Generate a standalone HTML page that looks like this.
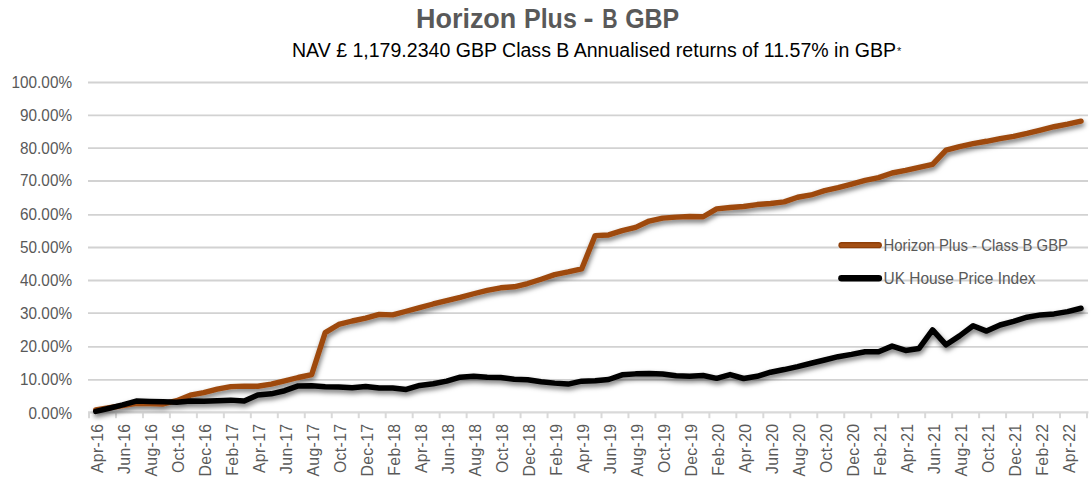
<!DOCTYPE html>
<html><head><meta charset="utf-8"><style>
html,body{margin:0;padding:0;background:#fff;width:1091px;height:480px;overflow:hidden}
svg{display:block}
text{font-family:"Liberation Sans", sans-serif}
.yl{font-size:17.4px;fill:#595959}
.xl{font-size:15.8px;letter-spacing:0.35px;fill:#595959}
.lg{font-size:15.6px;fill:#595959}
.tt{font-size:28.2px;font-weight:bold;fill:#595959}
.st{font-size:20px;fill:#000}
.ast{font-size:11px;fill:#222}
</style></head><body>
<svg width="1091" height="480" viewBox="0 0 1091 480">
<defs><filter id="sh" x="-5%" y="-10%" width="110%" height="130%">
<feDropShadow dx="1" dy="3" stdDeviation="2.8" flood-color="#000" flood-opacity="0.55"/>
</filter></defs>
<rect width="1091" height="480" fill="#fff"/>
<line x1="88" x2="1088" y1="379.90" y2="379.90" stroke="#d2d2d2" stroke-width="1.8"/><line x1="88" x2="1088" y1="346.90" y2="346.90" stroke="#d2d2d2" stroke-width="1.8"/><line x1="88" x2="1088" y1="313.10" y2="313.10" stroke="#d2d2d2" stroke-width="1.8"/><line x1="88" x2="1088" y1="280.50" y2="280.50" stroke="#d2d2d2" stroke-width="1.8"/><line x1="88" x2="1088" y1="247.50" y2="247.50" stroke="#d2d2d2" stroke-width="1.8"/><line x1="88" x2="1088" y1="214.80" y2="214.80" stroke="#d2d2d2" stroke-width="1.8"/><line x1="88" x2="1088" y1="181.00" y2="181.00" stroke="#d2d2d2" stroke-width="1.8"/><line x1="88" x2="1088" y1="148.10" y2="148.10" stroke="#d2d2d2" stroke-width="1.8"/><line x1="88" x2="1088" y1="115.40" y2="115.40" stroke="#d2d2d2" stroke-width="1.8"/><line x1="88" x2="1088" y1="82.50" y2="82.50" stroke="#d2d2d2" stroke-width="1.8"/><line x1="88" x2="1088.5" y1="412.3" y2="412.3" stroke="#d9d9d9" stroke-width="2.2"/><line x1="89.00" x2="89.00" y1="412" y2="418.2" stroke="#d9d9d9" stroke-width="2"/><line x1="115.97" x2="115.97" y1="412" y2="418.2" stroke="#d9d9d9" stroke-width="2"/><line x1="142.95" x2="142.95" y1="412" y2="418.2" stroke="#d9d9d9" stroke-width="2"/><line x1="169.92" x2="169.92" y1="412" y2="418.2" stroke="#d9d9d9" stroke-width="2"/><line x1="196.89" x2="196.89" y1="412" y2="418.2" stroke="#d9d9d9" stroke-width="2"/><line x1="223.86" x2="223.86" y1="412" y2="418.2" stroke="#d9d9d9" stroke-width="2"/><line x1="250.84" x2="250.84" y1="412" y2="418.2" stroke="#d9d9d9" stroke-width="2"/><line x1="277.81" x2="277.81" y1="412" y2="418.2" stroke="#d9d9d9" stroke-width="2"/><line x1="304.78" x2="304.78" y1="412" y2="418.2" stroke="#d9d9d9" stroke-width="2"/><line x1="331.76" x2="331.76" y1="412" y2="418.2" stroke="#d9d9d9" stroke-width="2"/><line x1="358.73" x2="358.73" y1="412" y2="418.2" stroke="#d9d9d9" stroke-width="2"/><line x1="385.70" x2="385.70" y1="412" y2="418.2" stroke="#d9d9d9" stroke-width="2"/><line x1="412.68" x2="412.68" y1="412" y2="418.2" stroke="#d9d9d9" stroke-width="2"/><line x1="439.65" x2="439.65" y1="412" y2="418.2" stroke="#d9d9d9" stroke-width="2"/><line x1="466.62" x2="466.62" y1="412" y2="418.2" stroke="#d9d9d9" stroke-width="2"/><line x1="493.59" x2="493.59" y1="412" y2="418.2" stroke="#d9d9d9" stroke-width="2"/><line x1="520.57" x2="520.57" y1="412" y2="418.2" stroke="#d9d9d9" stroke-width="2"/><line x1="547.54" x2="547.54" y1="412" y2="418.2" stroke="#d9d9d9" stroke-width="2"/><line x1="574.51" x2="574.51" y1="412" y2="418.2" stroke="#d9d9d9" stroke-width="2"/><line x1="601.49" x2="601.49" y1="412" y2="418.2" stroke="#d9d9d9" stroke-width="2"/><line x1="628.46" x2="628.46" y1="412" y2="418.2" stroke="#d9d9d9" stroke-width="2"/><line x1="655.43" x2="655.43" y1="412" y2="418.2" stroke="#d9d9d9" stroke-width="2"/><line x1="682.41" x2="682.41" y1="412" y2="418.2" stroke="#d9d9d9" stroke-width="2"/><line x1="709.38" x2="709.38" y1="412" y2="418.2" stroke="#d9d9d9" stroke-width="2"/><line x1="736.35" x2="736.35" y1="412" y2="418.2" stroke="#d9d9d9" stroke-width="2"/><line x1="763.32" x2="763.32" y1="412" y2="418.2" stroke="#d9d9d9" stroke-width="2"/><line x1="790.30" x2="790.30" y1="412" y2="418.2" stroke="#d9d9d9" stroke-width="2"/><line x1="817.27" x2="817.27" y1="412" y2="418.2" stroke="#d9d9d9" stroke-width="2"/><line x1="844.24" x2="844.24" y1="412" y2="418.2" stroke="#d9d9d9" stroke-width="2"/><line x1="871.22" x2="871.22" y1="412" y2="418.2" stroke="#d9d9d9" stroke-width="2"/><line x1="898.19" x2="898.19" y1="412" y2="418.2" stroke="#d9d9d9" stroke-width="2"/><line x1="925.16" x2="925.16" y1="412" y2="418.2" stroke="#d9d9d9" stroke-width="2"/><line x1="952.14" x2="952.14" y1="412" y2="418.2" stroke="#d9d9d9" stroke-width="2"/><line x1="979.11" x2="979.11" y1="412" y2="418.2" stroke="#d9d9d9" stroke-width="2"/><line x1="1006.08" x2="1006.08" y1="412" y2="418.2" stroke="#d9d9d9" stroke-width="2"/><line x1="1033.05" x2="1033.05" y1="412" y2="418.2" stroke="#d9d9d9" stroke-width="2"/><line x1="1060.03" x2="1060.03" y1="412" y2="418.2" stroke="#d9d9d9" stroke-width="2"/><line x1="1087.00" x2="1087.00" y1="412" y2="418.2" stroke="#d9d9d9" stroke-width="2"/><text transform="translate(72,418.55) scale(0.88,1)" text-anchor="end" class="yl">0.00%</text><text transform="translate(72,385.35) scale(0.88,1)" text-anchor="end" class="yl">10.00%</text><text transform="translate(72,352.35) scale(0.88,1)" text-anchor="end" class="yl">20.00%</text><text transform="translate(72,318.55) scale(0.88,1)" text-anchor="end" class="yl">30.00%</text><text transform="translate(72,285.95) scale(0.88,1)" text-anchor="end" class="yl">40.00%</text><text transform="translate(72,252.95) scale(0.88,1)" text-anchor="end" class="yl">50.00%</text><text transform="translate(72,220.25) scale(0.88,1)" text-anchor="end" class="yl">60.00%</text><text transform="translate(72,186.45) scale(0.88,1)" text-anchor="end" class="yl">70.00%</text><text transform="translate(72,153.55) scale(0.88,1)" text-anchor="end" class="yl">80.00%</text><text transform="translate(72,120.85) scale(0.88,1)" text-anchor="end" class="yl">90.00%</text><text transform="translate(72,87.95) scale(0.88,1)" text-anchor="end" class="yl">100.00%</text><text transform="translate(102.75,423.5) rotate(-90)" text-anchor="end" class="xl">Apr-16</text><text transform="translate(129.74,423.5) rotate(-90)" text-anchor="end" class="xl">Jun-16</text><text transform="translate(156.74,423.5) rotate(-90)" text-anchor="end" class="xl">Aug-16</text><text transform="translate(183.73,423.5) rotate(-90)" text-anchor="end" class="xl">Oct-16</text><text transform="translate(210.73,423.5) rotate(-90)" text-anchor="end" class="xl">Dec-16</text><text transform="translate(237.72,423.5) rotate(-90)" text-anchor="end" class="xl">Feb-17</text><text transform="translate(264.72,423.5) rotate(-90)" text-anchor="end" class="xl">Apr-17</text><text transform="translate(291.71,423.5) rotate(-90)" text-anchor="end" class="xl">Jun-17</text><text transform="translate(318.71,423.5) rotate(-90)" text-anchor="end" class="xl">Aug-17</text><text transform="translate(345.70,423.5) rotate(-90)" text-anchor="end" class="xl">Oct-17</text><text transform="translate(372.69,423.5) rotate(-90)" text-anchor="end" class="xl">Dec-17</text><text transform="translate(399.69,423.5) rotate(-90)" text-anchor="end" class="xl">Feb-18</text><text transform="translate(426.68,423.5) rotate(-90)" text-anchor="end" class="xl">Apr-18</text><text transform="translate(453.68,423.5) rotate(-90)" text-anchor="end" class="xl">Jun-18</text><text transform="translate(480.67,423.5) rotate(-90)" text-anchor="end" class="xl">Aug-18</text><text transform="translate(507.67,423.5) rotate(-90)" text-anchor="end" class="xl">Oct-18</text><text transform="translate(534.66,423.5) rotate(-90)" text-anchor="end" class="xl">Dec-18</text><text transform="translate(561.66,423.5) rotate(-90)" text-anchor="end" class="xl">Feb-19</text><text transform="translate(588.65,423.5) rotate(-90)" text-anchor="end" class="xl">Apr-19</text><text transform="translate(615.65,423.5) rotate(-90)" text-anchor="end" class="xl">Jun-19</text><text transform="translate(642.64,423.5) rotate(-90)" text-anchor="end" class="xl">Aug-19</text><text transform="translate(669.64,423.5) rotate(-90)" text-anchor="end" class="xl">Oct-19</text><text transform="translate(696.63,423.5) rotate(-90)" text-anchor="end" class="xl">Dec-19</text><text transform="translate(723.62,423.5) rotate(-90)" text-anchor="end" class="xl">Feb-20</text><text transform="translate(750.62,423.5) rotate(-90)" text-anchor="end" class="xl">Apr-20</text><text transform="translate(777.61,423.5) rotate(-90)" text-anchor="end" class="xl">Jun-20</text><text transform="translate(804.61,423.5) rotate(-90)" text-anchor="end" class="xl">Aug-20</text><text transform="translate(831.60,423.5) rotate(-90)" text-anchor="end" class="xl">Oct-20</text><text transform="translate(858.60,423.5) rotate(-90)" text-anchor="end" class="xl">Dec-20</text><text transform="translate(885.59,423.5) rotate(-90)" text-anchor="end" class="xl">Feb-21</text><text transform="translate(912.59,423.5) rotate(-90)" text-anchor="end" class="xl">Apr-21</text><text transform="translate(939.58,423.5) rotate(-90)" text-anchor="end" class="xl">Jun-21</text><text transform="translate(966.58,423.5) rotate(-90)" text-anchor="end" class="xl">Aug-21</text><text transform="translate(993.57,423.5) rotate(-90)" text-anchor="end" class="xl">Oct-21</text><text transform="translate(1020.56,423.5) rotate(-90)" text-anchor="end" class="xl">Dec-21</text><text transform="translate(1047.56,423.5) rotate(-90)" text-anchor="end" class="xl">Feb-22</text><text transform="translate(1074.55,423.5) rotate(-90)" text-anchor="end" class="xl">Apr-22</text>

<text x="416.0" y="28.3" class="tt" textLength="100.3" lengthAdjust="spacingAndGlyphs">Horizon</text><text x="524.0" y="28.3" class="tt" textLength="52.8" lengthAdjust="spacingAndGlyphs">Plus</text><text x="583.5" y="28.3" class="tt" textLength="10.0" lengthAdjust="spacingAndGlyphs">-</text><text x="602.2" y="28.3" class="tt" textLength="15.3" lengthAdjust="spacingAndGlyphs">B</text><text x="625.2" y="28.3" class="tt" textLength="54.0" lengthAdjust="spacingAndGlyphs">GBP</text>
<text x="292" y="57" class="st" textLength="604" lengthAdjust="spacingAndGlyphs">NAV £ 1,179.2340 GBP Class B Annualised returns of 11.57% in GBP</text>
<text x="896.9" y="54.8" class="ast">*</text>


<g filter="url(#sh)">
<path d="M95.75,409.88 L109.25,407.73 L122.74,405.58 L136.24,403.27 L149.74,403.60 L163.24,403.93 L176.73,400.63 L190.23,395.18 L203.73,392.53 L217.22,389.06 L230.72,386.59 L244.22,386.09 L257.72,386.25 L271.21,384.11 L284.71,380.80 L298.21,377.50 L311.71,374.53 L325.20,332.57 L338.70,324.47 L352.20,321.00 L365.69,318.20 L379.19,314.40 L392.69,314.89 L406.19,311.26 L419.68,307.62 L433.18,303.99 L446.68,300.69 L460.18,297.38 L473.67,293.75 L487.17,290.44 L500.67,287.80 L514.16,286.81 L527.66,283.51 L541.16,279.21 L554.66,274.59 L568.15,271.94 L581.65,268.97 L595.15,235.60 L608.65,234.94 L622.14,230.65 L635.64,227.34 L649.14,221.06 L662.64,218.09 L676.13,217.10 L689.63,216.44 L703.13,216.77 L716.62,208.84 L730.12,207.52 L743.62,206.53 L757.12,204.55 L770.61,203.55 L784.11,201.90 L797.61,197.28 L811.11,194.96 L824.60,190.67 L838.10,187.70 L851.60,184.06 L865.09,180.43 L878.59,177.62 L892.09,172.99 L905.59,170.35 L919.08,167.38 L932.58,164.40 L946.08,150.20 L959.58,146.56 L973.07,143.59 L986.57,141.28 L1000.07,138.63 L1013.56,136.32 L1027.06,133.35 L1040.56,130.05 L1054.06,126.74 L1067.55,124.10 L1081.05,121.12" fill="none" stroke="#9e4a10" stroke-width="5.4" stroke-linejoin="round" stroke-linecap="round"/>
<path d="M95.75,411.36 L109.25,408.23 L122.74,404.92 L136.24,401.12 L149.74,401.45 L163.24,401.78 L176.73,402.28 L190.23,400.96 L203.73,401.29 L217.22,400.63 L230.72,400.13 L244.22,400.96 L257.72,395.01 L271.21,393.85 L284.71,390.71 L298.21,385.92 L311.71,385.76 L325.20,386.75 L338.70,387.08 L352.20,387.74 L365.69,386.42 L379.19,388.07 L392.69,388.07 L406.19,389.39 L419.68,385.43 L433.18,383.78 L446.68,381.13 L460.18,377.17 L473.67,376.18 L487.17,377.17 L500.67,377.50 L514.16,379.15 L527.66,379.81 L541.16,381.79 L554.66,383.12 L568.15,384.11 L581.65,381.13 L595.15,380.80 L608.65,379.48 L622.14,374.86 L635.64,373.87 L649.14,373.54 L662.64,374.03 L676.13,375.85 L689.63,376.18 L703.13,375.52 L716.62,378.33 L730.12,374.53 L743.62,378.49 L757.12,376.34 L770.61,372.21 L784.11,369.57 L797.61,366.60 L811.11,363.29 L824.60,359.99 L838.10,356.69 L851.60,354.37 L865.09,351.73 L878.59,351.73 L892.09,346.11 L905.59,350.41 L919.08,348.43 L932.58,329.92 L946.08,344.79 L959.58,335.87 L973.07,325.80 L986.57,331.08 L1000.07,324.97 L1013.56,321.34 L1027.06,317.21 L1040.56,314.89 L1054.06,313.90 L1067.55,311.59 L1081.05,308.29" fill="none" stroke="#000" stroke-width="5.5" stroke-linejoin="round" stroke-linecap="round"/>
</g>

<line x1="841.5" x2="878.8" y1="245.2" y2="245.2" stroke="#8f3f08" stroke-width="6.2" stroke-linecap="round"/>
<line x1="841.5" x2="878.8" y1="245.2" y2="245.2" stroke="#a34f14" stroke-width="3.6" stroke-linecap="round"/>
<line x1="841.5" x2="878.8" y1="278.3" y2="278.3" stroke="#000" stroke-width="6.6" stroke-linecap="round"/>
<text x="883.5" y="251.1" class="lg" textLength="184.5" lengthAdjust="spacingAndGlyphs">Horizon Plus - Class B GBP</text>
<text x="883.5" y="283.8" class="lg" textLength="152" lengthAdjust="spacingAndGlyphs">UK House Price Index</text>

</svg>
</body></html>
